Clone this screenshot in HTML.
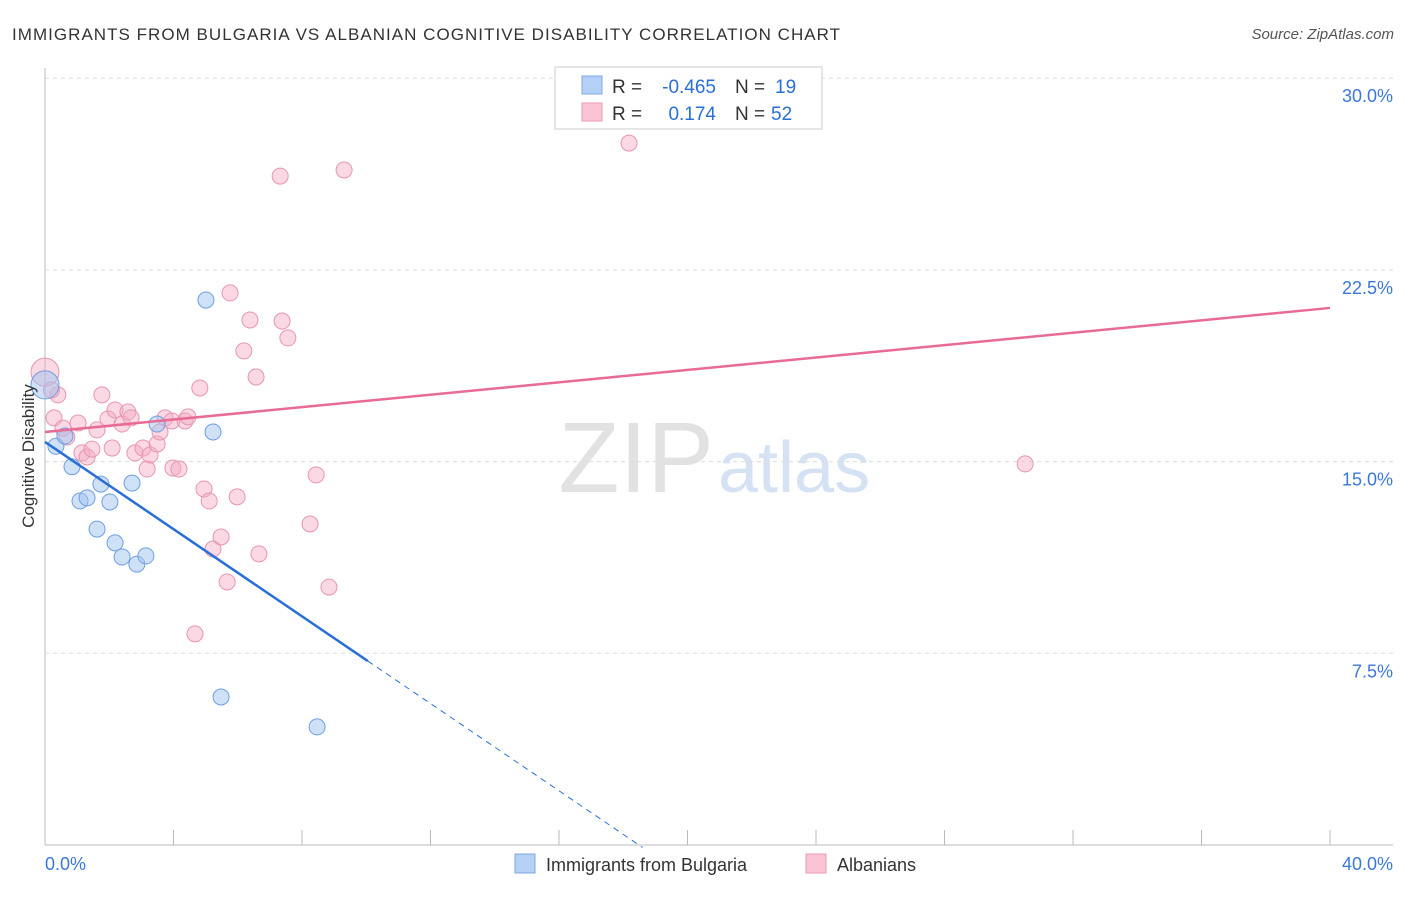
<!DOCTYPE html>
<html><head><meta charset="utf-8"><style>
body{margin:0;background:#fff;font-family:"Liberation Sans",sans-serif}
svg text{font-family:"Liberation Sans",sans-serif}
</style></head><body>
<svg id="c" width="1406" height="892">
<text x="12" y="40" font-size="17" fill="#333" textLength="828">IMMIGRANTS FROM BULGARIA VS ALBANIAN COGNITIVE DISABILITY CORRELATION CHART</text>
<text x="1394" y="39" font-size="15" fill="#555" text-anchor="end" font-style="italic">Source: ZipAtlas.com</text>
<text x="714" y="492" font-size="100" fill="#e2e2e2" text-anchor="end" font-family="Liberation Serif">ZIP</text>
<text x="718" y="492" font-size="72" fill="#d4e2f4">atlas</text>
<g id="grid"></g><g id="marks"></g>
<text transform="translate(34,456) rotate(-90)" font-size="17" fill="#333" text-anchor="middle">Cognitive Disability</text>
<g>
<rect x="555" y="67" width="267" height="62" fill="#fff" stroke="#ccc"/>
<rect x="582" y="76" width="20" height="18" fill="#b4d0f4" stroke="#7ea8e0"/>
<rect x="582" y="103" width="20" height="18" fill="#f8c4d4" stroke="#ec9ab6"/>
<text x="612" y="93" font-size="19" fill="#333">R =</text>
<text x="716" y="93" font-size="19" fill="#2a6fd6" text-anchor="end">-0.465</text>
<text x="735" y="93" font-size="19" fill="#333">N =</text>
<text x="775" y="93" font-size="19" fill="#2a6fd6">19</text>
<text x="612" y="120" font-size="19" fill="#333">R =</text>
<text x="716" y="120" font-size="19" fill="#2a6fd6" text-anchor="end">0.174</text>
<text x="735" y="120" font-size="19" fill="#333">N =</text>
<text x="771" y="120" font-size="19" fill="#2a6fd6">52</text>
</g>
<g>
<rect x="515" y="854" width="20" height="19" fill="#b4d0f4" stroke="#7ea8e0"/>
<text x="546" y="871" font-size="18" fill="#333">Immigrants from Bulgaria</text>
<rect x="806" y="854" width="20" height="19" fill="#f8c4d4" stroke="#ec9ab6"/>
<text x="837" y="871" font-size="18" fill="#333">Albanians</text>
</g>
</svg>
<script>
const yTicks=[7.5,15,22.5,30];
const yTickLabels=["7.5%","15.0%","22.5%","30.0%"];
const xTicks=[0,4,8,12,16,20,24,28,32,36,40];
const blueX=[0,0.34,0.62,0.84,1.09,1.31,1.62,1.74,2.02,2.18,2.40,2.71,2.86,3.14,3.49,5.01,5.23,5.48,8.47];
const blueY=[18.0,15.6,16.0,14.8,13.46,13.58,12.36,14.12,13.42,11.82,11.27,14.16,10.99,11.31,16.47,21.32,16.16,5.79,4.62];
const pinkX=[0,0.28,0.40,0.56,0.68,1.03,1.15,1.31,1.46,1.62,1.77,1.96,2.09,2.18,2.40,2.58,2.68,2.80,3.05,3.18,3.27,3.49,3.58,3.74,3.95,3.98,4.17,4.36,4.45,4.67,4.82,4.95,5.11,5.23,5.48,5.67,5.76,5.98,6.19,6.38,6.57,6.66,7.32,7.38,7.56,8.25,8.44,8.84,9.31,18.18,30.51,0.2];
const pinkY=[18.5,16.71,17.61,16.31,15.96,16.51,15.34,15.18,15.49,16.24,17.61,16.67,15.53,17.02,16.47,16.94,16.71,15.34,15.53,14.71,15.26,15.69,16.16,16.71,16.59,14.75,14.71,16.59,16.75,8.26,17.88,13.93,13.46,11.58,12.05,10.29,21.60,13.62,19.33,20.54,18.31,11.39,26.17,20.50,19.84,12.56,14.48,10.09,26.41,27.46,14.91,17.8];
const blueFit=[15.77,-0.853]; const pinkFit=[16.16,0.1213];
const X=v=>45+v/40*1285, Y=v=>845-v*25.56;
const NS="http://www.w3.org/2000/svg";
function mk(p,t,a){const e=document.createElementNS(NS,t);for(const k in a)e.setAttribute(k,a[k]);p.appendChild(e);return e;}
const g=document.getElementById('grid'),m=document.getElementById('marks');
let e=mk(g,'line',{x1:45,y1:68,x2:45,y2:845,stroke:'#bbb'});


e=mk(g,'line',{x1:45,y1:845,x2:1393,y2:845,stroke:'#bbb'});


yTicks.forEach((v,i)=>{
 let l=mk(g,'line',{x1:45,y1:Y(v),x2:1393,y2:Y(v),stroke:'#ddd','stroke-dasharray':'4,4'});
 
 
 let t=mk(g,'text',{x:1393,y:Y(v)+24,'font-size':18,fill:'#3a78d8','text-anchor':'end'});t.textContent=yTickLabels[i];
 
 
});
xTicks.forEach(v=>{let l=mk(g,'line',{x1:X(v),y1:830,x2:X(v),y2:845,stroke:'#bbb'});
 
 });
let t=mk(g,'text',{x:45,y:870,'font-size':18,fill:'#3a78d8'});t.textContent='0.0%';


t=mk(g,'text',{x:1393,y:870,'font-size':18,fill:'#3a78d8','text-anchor':'end'});t.textContent='40.0%';


pinkX.forEach((x,i)=>{const c=mk(m,'circle',{cx:X(x),cy:Y(pinkY[i]),r:i==0?14:8,fill:'rgba(245,170,195,0.45)',stroke:'#e895b2','stroke-width':1});
 
 });
blueX.forEach((x,i)=>{const c=mk(m,'circle',{cx:X(x),cy:Y(blueY[i]),r:i==0?14:8,fill:'rgba(160,195,240,0.5)',stroke:'#6f9fe0','stroke-width':1});
 
 });
e=mk(m,'line',{x1:X(0),y1:Y(pinkFit[0]),x2:X(40),y2:Y(pinkFit[0]+pinkFit[1]*40),stroke:'#e86b96','stroke-width':2.5});


e=mk(m,'line',{x1:X(0),y1:Y(blueFit[0]),x2:X(10.05),y2:Y(blueFit[0]+blueFit[1]*10.05),stroke:'#2a6fd6','stroke-width':2.5});


e=mk(m,'line',{x1:X(10.05),y1:Y(blueFit[0]+blueFit[1]*10.05),x2:X(18.6),y2:Y(blueFit[0]+blueFit[1]*18.6),stroke:'#2a6fd6','stroke-width':1,'stroke-dasharray':'6,5'});


</script>
</body></html>
